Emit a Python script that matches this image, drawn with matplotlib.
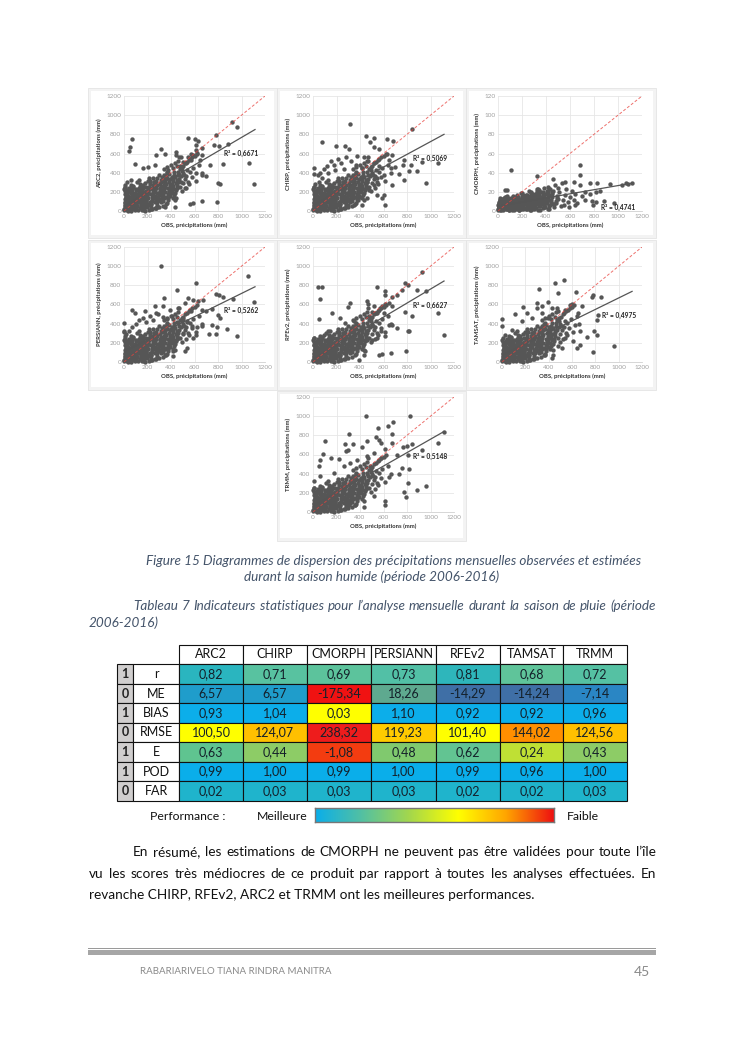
import numpy as np
import matplotlib
matplotlib.use('Agg')
import matplotlib.pyplot as plt
from matplotlib.patches import Rectangle
from matplotlib.colors import LinearSegmentedColormap

plt.rcParams['font.family'] = ['Lato', 'DejaVu Sans']

# points shared by most products (dense cloud around the diagonal), read by eye
core_obs = [4,8,12,6,10,14,9,5,25,30,28,35,22,33,27,38,
            45,52,48,58,44,55,60,50,72,78,68,82,75,88,70,95,85,92,
            105,112,100,118,108,115,125,102,135,142,130,148,138,145,155,128,
            165,172,160,178,168,175,185,162,195,202,190,208,198,205,215,188,225,220,
            235,242,230,248,238,245,255,232,265,272,260,278,268,275,285,258,295,290,
            302,310,305,318,308,315,325,300,335,342,330,348,338,345,355,328,365,360,
            375,382,378,390,385,395,405,380,415,422,410,428,418,440,450,435,465,460,
            3,7,11,15,18,20,2,6,13,17,32,36,40,24,29,34,21,37,
            42,47,53,57,62,65,67,74,80,86,90,94,98,43,56,76,83,96,
            103,107,113,120,123,127,133,137,141,147,151,156,160,167,110,126,144,158,
            173,177,182,187,193,197,203,207,212,218,223,228,233,238,180,200,215,228,
            243,247,252,257,262,267,273,277,283,287,293,298,303,307,250,280,300,265,
            313,317,322,327,333,337,343,347,353,357,363,367,373,377,383,387,340,370,
            393,398,403,408,413,418,423,428,433,438,443,448,453,458,470,485,500,490]
core_est = [6,34,62,92,122,148,178,205,12,42,72,102,130,160,188,60,
            10,38,68,95,125,150,185,212,22,52,82,110,140,170,198,30,60,90,
            18,48,78,105,135,165,195,225,35,62,92,120,150,180,208,240,
            30,58,88,118,148,178,205,235,45,75,105,135,165,195,225,255,60,90,
            120,150,180,210,240,270,300,72,95,125,155,185,215,245,275,305,110,140,
            170,200,230,260,290,320,350,120,100,135,165,195,225,255,285,315,345,150,
            180,210,240,270,300,330,360,390,140,170,200,230,260,290,320,350,380,410,
            20,50,80,110,140,170,230,255,40,195,25,85,115,145,175,205,100,220,
            22,55,82,110,138,165,225,250,38,125,155,185,215,245,275,265,95,110,
            60,92,120,150,180,210,255,280,50,78,105,135,165,195,300,320,240,270,
            15,45,72,102,132,162,192,222,252,285,315,40,75,105,290,310,340,25,
            135,165,195,225,255,285,315,60,90,120,150,180,210,240,345,340,375,35,
            90,125,155,185,215,245,275,305,335,365,395,80,110,140,175,205,375,410,
            155,225,255,285,315,345,375,405,120,185,215,245,275,305,335,365,395,430]
cmorph_core = [1,4,7,2,5,9,3,6,1,4,8,11,3,6,10,13,
               1,4,7,10,2,5,12,14,2,6,9,12,3,7,15,1,4,8,
               2,5,8,11,14,1,4,7,3,6,9,12,15,2,5,10,
               3,6,9,12,15,1,4,7,2,5,8,11,14,17,3,6,10,13,
               2,5,8,11,14,17,4,7,1,3,6,9,12,15,18,21,10,13,
               2,6,9,12,15,18,21,4,1,5,8,11,14,17,20,23,10,7,
               3,6,9,12,15,18,21,24,2,5,8,11,14,17,20,23,4,7,
               2,5,8,11,14,3,6,9,12,1,4,7,10,13,2,5,8,11,
               3,6,9,12,15,2,5,8,11,14,1,4,7,10,13,16,3,6,
               2,4,7,10,13,16,1,3,5,8,11,14,17,2,6,9,12,15,
               1,4,7,10,13,16,19,2,5,8,11,14,17,3,6,9,12,15,
               2,4,7,10,13,16,19,1,3,6,9,12,15,18,5,8,11,14,
               3,7,10,13,16,19,22,1,5,8,11,14,17,20,4,9,12,15,
               4,8,11,14,17,20,23,2,6,9,12,15,18,21,7,10,13,16]

# tail of the cloud along the diagonal and its low edge, not used for CMORPH
tail_obs = [475,490,505,520,535,550,565,580,600,620,480,500,515,530,545,560,575,495,510,525,540,555,590,610,640,660,
            340,370,400,430,460,450,420,470,
            60,90,120,150,180,210,240,270,300,330,360,30]
tail_est = [440,455,470,500,510,530,540,560,570,590,250,290,330,370,300,410,350,210,380,240,430,280,450,310,480,400,
            440,460,480,500,520,470,450,560,
            5,8,6,10,5,12,20,30,45,55,70,4]

arc2_x = [921,958,71,54,43,91,313,546,603,631,617,668,779,768,808,881,845,1063,1109,802,816,788,660,560,589,731,702,660,617,518,
          489,461,446,446,489,546,574,645,660,574,617,262,205,162,276,347,375,404,446,347,276,432,5,10,25,60,480,500,530,560,590,620]
arc2_y = [930,877,756,672,624,489,652,766,756,728,686,662,790,693,680,704,492,503,277,295,284,90,107,73,87,479,368,375,392,236,
          305,375,583,617,565,565,530,530,583,600,635,479,461,444,583,600,427,184,132,45,28,45,270,240,300,320,470,510,500,540,580,610]
chirp_x = [318,80,199,276,455,523,483,523,560,631,677,845,304,375,432,631,674,645,773,930,1066,958,773,731,816,881,768,830,674,617,
           589,546,603,461,418,404,660,702,603,546,518,475,5,5,5,60,90,40,120,150,180,210,240,280,320,370,420,470,520,560,
           260,190,130,80,50,20,15,380,340,300,420,460,350,300,250]
chirp_y = [909,721,676,676,787,760,721,669,652,756,735,853,642,576,565,600,583,530,530,513,503,288,323,381,416,416,479,479,270,62,
           132,166,166,132,62,149,444,461,375,340,270,218,444,390,250,400,440,380,470,520,480,540,500,560,520,480,450,520,500,470,
           440,430,400,340,300,280,160,120,180,130,240,300,60,60,110]
cmorph_x = [106,321,684,684,767,823,935,1066,1116,61,78,460,530,558,633,684,781,795,815,887,963,725,767,815,851,725,474,419,335,279,195,
            480,495,510,525,540,555,570,585,600,615,630,645,660,500,550,590,640,700,1030,1080]
cmorph_y = [43,37,48,38,29,29,28,29,29,22,22,33,29,30,30,27,10,6,9,10,8,12,18,20,21,20,27,25,23,20,19,
            8,14,20,5,11,17,23,9,15,21,12,18,8,24,6,4,6,16,27,28]
persiann_x = [313,611,455,1058,1106,924,341,546,589,631,674,779,810,839,745,802,816,745,788,879,958,782,725,660,617,589,532,518,418,418,
              347,0,0,71,176,97,262,276,333,390,518,461,660,574,702,0,5,20,10,40,70,100,130,160,190,220,250,290,330,370,
              410,450,500,540,580,620,500,460,420,380,350,15,30]
persiann_y = [998,821,748,894,623,657,668,668,650,633,650,713,703,682,553,487,459,383,362,341,268,292,296,372,285,250,146,111,111,59,
              77,407,320,539,529,511,581,511,581,546,616,564,546,529,529,310,270,290,230,320,360,400,440,460,420,480,440,500,470,450,
              480,420,450,420,380,360,300,250,220,180,140,180,220]
rfev2_x = [45,80,57,48,162,233,296,318,546,930,779,810,881,958,759,617,617,674,717,461,466,674,645,779,845,1066,1115,816,808,717,
           674,645,575,617,560,589,668,788,546,503,461,446,432,390,5,5,91,148,276,347,518,589,603,546,489,480,500,530,570,610]
rfev2_y = [779,779,657,449,515,456,570,616,786,939,821,807,751,737,755,737,696,675,703,633,609,581,616,522,477,508,285,320,320,355,
           390,390,320,268,77,83,94,111,250,233,233,111,77,24,250,180,285,320,407,424,581,581,511,511,459,480,520,510,560,600]
tamsat_x = [321,455,535,483,634,773,782,847,299,299,390,347,176,213,114,0,0,682,603,583,825,810,790,810,731,958,776,668,640,611,
            540,512,478,441,427,370,668,626,427,483,540,398,341,256,171,85,28,14,654]
tamsat_y = [765,824,856,720,730,678,703,675,616,563,623,588,570,511,501,449,372,588,609,598,494,442,327,285,264,163,101,181,146,216,
            250,146,163,77,42,77,320,390,563,529,546,459,511,459,424,337,285,198,511]
trmm_x = [455,822,677,637,555,304,105,82,57,48,154,219,276,341,296,279,461,418,540,560,580,674,1115,1066,930,845,802,768,674,617,
          717,810,759,816,731,808,773,788,881,958,645,617,617,518,432,361,304,5,5,63,176,262,318,375,461,518,575,489]
trmm_y = [1002,998,936,894,877,814,737,605,539,483,563,553,710,710,650,633,737,678,783,755,720,814,831,720,650,710,692,678,720,661,
          598,595,459,452,397,303,205,153,233,275,362,111,77,163,52,77,77,320,250,372,407,476,511,546,581,616,563,476]

panel_names = ['ARC2', 'CHIRP', 'CMORPH', 'PERSIANN', 'RFEv2', 'TAMSAT', 'TRMM']
r2_labels = ['0,6671', '0,5069', '0,4741', '0,5262', '0,6627', '0,4975', '0,5148']
trend_start = [50, 60, 5, 110, 30, 70, 60]
trend_end = [850, 800, 29, 785, 845, 737, 840]

# table
columns = ['ARC2', 'CHIRP', 'CMORPH', 'PERSIANN', 'RFEv2', 'TAMSAT', 'TRMM']
rows = ['r', 'ME', 'BIAS', 'RMSE', 'E', 'POD', 'FAR']
flags = ['1', '0', '1', '0', '1', '1', '0']
cells = [['0,82', '0,71', '0,69', '0,73', '0,81', '0,68', '0,72'],
         ['6,57', '6,57', '-175,34', '18,26', '-14,29', '-14,24', '-7,14'],
         ['0,93', '1,04', '0,03', '1,10', '0,92', '0,92', '0,96'],
         ['100,50', '124,07', '238,32', '119,23', '101,40', '144,02', '124,56'],
         ['0,63', '0,44', '-1,08', '0,48', '0,62', '0,24', '0,43'],
         ['0,99', '1,00', '0,99', '1,00', '0,99', '0,96', '1,00'],
         ['0,02', '0,03', '0,03', '0,03', '0,02', '0,02', '0,03']]
cell_colors = [['#2ab5bf', '#58c2a0', '#5cc39c', '#52c0a6', '#2eb6bb', '#5fc49a', '#55c1a3'],
               ['#1f9dcb', '#1f9dcb', '#f01212', '#5ea98f', '#3f6fa6', '#3f6fa6', '#2a86c4'],
               ['#0caeea', '#0caeea', '#ffff00', '#0caeea', '#0caeea', '#0caeea', '#0caeea'],
               ['#ffff00', '#ffc000', '#ee1c1c', '#ffcb00', '#ffff00', '#ff8f00', '#ffc000'],
               ['#5fc490', '#8dcc66', '#f33c10', '#80c96e', '#62c492', '#bfe034', '#8dcc66'],
               ['#0aaeea', '#0aaeea', '#0aaeea', '#0aaeea', '#0aaeea', '#0aaeea', '#0aaeea'],
               ['#1fb4cc', '#1fb4cc', '#1fb4cc', '#1fb4cc', '#1fb4cc', '#1fb4cc', '#1fb4cc']]

W, H = 745, 1053
fig = plt.figure(figsize=(W / 100, H / 100), dpi=100)
bg = fig.add_axes([0, 0, 1, 1])
bg.set_xlim(0, W)
bg.set_ylim(H, 0)
bg.axis('off')
top = fig.add_axes([0, 0, 1, 1], zorder=20)  # R2 labels sit above the scatter axes
top.set_xlim(0, W)
top.set_ylim(H, 0)
top.axis('off')


def px_axes(x0, y0, x1, y1):
    return fig.add_axes([x0 / W, 1 - y1 / H, (x1 - x0) / W, (y1 - y0) / H])


# scatter panels: frame box, plot box
frames = [(88, 88, 277, 238), (277, 88, 466, 238), (466, 88, 656, 238),
          (88, 240, 277, 390), (277, 240, 466, 390), (466, 240, 656, 390),
          (277, 391, 466, 541)]
plots = [(124, 96, 265, 211), (313, 96, 454, 211), (498, 96, 642, 211),
         (124, 247, 265, 362), (313, 247, 454, 362), (502, 247, 642, 362),
         (313, 397, 454, 512)]
r2_pos = [(241, 153), (430, 158), (618, 207), (241, 310), (430, 305), (619, 315), (430, 456)]

series_x = [core_obs + tail_obs + arc2_x, core_obs + tail_obs + chirp_x, core_obs + cmorph_x,
            core_obs + tail_obs + persiann_x, core_obs + tail_obs + rfev2_x,
            core_obs + tail_obs + tamsat_x, core_obs + tail_obs + trmm_x]
series_y = [core_est + tail_est + arc2_y, core_est + tail_est + chirp_y, cmorph_core + cmorph_y,
            core_est + tail_est + persiann_y, core_est + tail_est + rfev2_y,
            core_est + tail_est + tamsat_y, core_est + tail_est + trmm_y]

for i, name in enumerate(panel_names):
    fx0, fy0, fx1, fy1 = frames[i]
    bg.add_patch(Rectangle((fx0, fy0), fx1 - fx0, fy1 - fy0, fc='#f3f3f3', ec='#e4e4e4', lw=0.6))
    bg.add_patch(Rectangle((fx0 + 3, fy0 + 3), fx1 - fx0 - 6, fy1 - fy0 - 6, fc='white', ec='none'))

    ax = px_axes(*plots[i])
    ymax = 120 if name == 'CMORPH' else 1200
    ax.set_xlim(0, 1200)
    ax.set_ylim(0, ymax)
    ax.set_xticks(range(0, 1201, 200))
    ax.set_yticks(np.arange(0, ymax + 1, ymax / 6))
    ax.set_yticklabels([str(int(v)) for v in np.arange(0, ymax + 1, ymax / 6)])
    ax.grid(color='#e6e6e6', lw=0.6)
    ax.set_axisbelow(True)
    ax.tick_params(length=0, labelsize=4.6, labelcolor='#a0a0a0', pad=2)
    for s in ax.spines.values():
        s.set_visible(False)
    ax.spines['bottom'].set_visible(True)
    ax.spines['bottom'].set_color('#d0d0d0')
    ax.spines['bottom'].set_linewidth(0.6)

    ax.scatter(series_x[i], series_y[i], s=10, color='#565656', lw=0, clip_on=False, zorder=3)
    ax.plot([0, 1115], [trend_start[i], trend_end[i]], color='#555555', lw=0.9, zorder=4)
    ax.plot([0, 1200], [0, ymax], color='#e8413c', lw=0.7, ls=(0, (3, 2)), alpha=0.75, zorder=5)

    ax.set_xlabel('OBS, précipitations (mm)', fontsize=4.3, fontweight='bold', color='#333333', labelpad=3)
    ax.set_ylabel(name + ', précipitations (mm)', fontsize=4.3, fontweight='bold', color='#333333', labelpad=3)
    top.text(r2_pos[i][0], r2_pos[i][1], 'R² = ' + r2_labels[i], fontsize=4.8, fontweight='bold',
             color='#222222', ha='center', va='center')

fig.canvas.draw()
renderer = fig.canvas.get_renderer()


def justified(line, x0, x1, y, **kw):
    words = line.split(' ')
    items = [bg.text(x0, y, w, va='baseline', ha='left', **kw) for w in words]
    widths = [t.get_window_extent(renderer).width for t in items]
    gap = (x1 - x0 - sum(widths)) / (len(words) - 1)
    pos = x0
    for t, wd in zip(items, widths):
        t.set_x(pos)
        pos += wd + gap


caption_color = '#44546a'
bg.text(394, 561, 'Figure 15 Diagrammes de dispersion des précipitations mensuelles observées et estimées',
        ha='center', va='center', fontsize=9.7, style='italic', color=caption_color)
bg.text(372, 577, 'durant la saison humide (période 2006-2016)',
        ha='center', va='center', fontsize=9.7, style='italic', color=caption_color)
justified('Tableau 7 Indicateurs statistiques pour l’analyse mensuelle durant la saison de pluie (période',
          133, 656, 610, fontsize=9.7, style='italic', color=caption_color)
bg.text(89, 627, '2006-2016)', ha='left', va='baseline', fontsize=9.7, style='italic', color=caption_color)

# table
col_x = [117, 133, 179, 243, 307, 371, 436, 500, 563, 627]
row_y = [645, 664, 684, 703, 723, 742, 762, 781, 801]
edge = '#111111'
for j, col in enumerate(columns):
    x0, x1 = col_x[j + 2], col_x[j + 3]
    bg.add_patch(Rectangle((x0, row_y[0]), x1 - x0, row_y[1] - row_y[0], fc='white', ec=edge, lw=0.8))
    bg.text((x0 + x1) / 2, (row_y[0] + row_y[1]) / 2, col, ha='center', va='center', fontsize=9, color='#111111')
for r, row in enumerate(rows):
    y0, y1 = row_y[r + 1], row_y[r + 2]
    ym = (y0 + y1) / 2
    bg.add_patch(Rectangle((col_x[0], y0), col_x[1] - col_x[0], y1 - y0, fc='#d0cece', ec=edge, lw=0.8))
    bg.text((col_x[0] + col_x[1]) / 2, ym, flags[r], ha='center', va='center', fontsize=9,
            fontweight='bold', color='#222222')
    bg.add_patch(Rectangle((col_x[1], y0), col_x[2] - col_x[1], y1 - y0, fc='white', ec=edge, lw=0.8))
    bg.text((col_x[1] + col_x[2]) / 2, ym, row, ha='center', va='center', fontsize=9, color='#111111')
    for j in range(len(columns)):
        x0, x1 = col_x[j + 2], col_x[j + 3]
        bg.add_patch(Rectangle((x0, y0), x1 - x0, y1 - y0, fc=cell_colors[r][j], ec=edge, lw=0.8))
        bg.text((x0 + x1) / 2, ym, cells[r][j], ha='center', va='center', fontsize=9, color='#14202a')

# colour key
perf_cmap = LinearSegmentedColormap.from_list('perf', ['#0aaeea', '#55c1a0', '#a6d84a', '#ffff00', '#ffa500', '#ee1111'])
key = px_axes(315, 808, 554, 822)
key.imshow(np.linspace(0, 1, 256)[None, :], aspect='auto', cmap=perf_cmap)
key.set_xticks([])
key.set_yticks([])
for s in key.spines.values():
    s.set_color('#777777')
    s.set_linewidth(1.0)
bg.text(150, 816, 'Performance :', ha='left', va='center', fontsize=8.8, color='#111111')
bg.text(257, 816, 'Meilleure', ha='left', va='center', fontsize=8.8, color='#111111')
bg.text(567, 816, 'Faible', ha='left', va='center', fontsize=8.8, color='#111111')

# body text
justified('En résumé, les estimations de CMORPH ne peuvent pas être validées pour toute l’île',
          133, 656, 856, fontsize=9.85, color='#111111')
justified('vu les scores très médiocres de ce produit par rapport à toutes les analyses effectuées. En',
          89, 656, 878, fontsize=9.85, color='#111111')
bg.text(89, 899, 'revanche CHIRP, RFEv2, ARC2 et TRMM ont les meilleures performances.',
        ha='left', va='baseline', fontsize=9.85, color='#111111')

# footer
bg.add_patch(Rectangle((88, 948), 568, 1, fc='#9a9a9a', ec='none'))
bg.add_patch(Rectangle((88, 950), 568, 5, fc='#a6a6a6', ec='none'))
bg.text(140, 972, 'RABARIARIVELO TIANA RINDRA MANITRA', ha='left', va='center', fontsize=7, color='#8a8a8a')
bg.text(650, 972, '45', ha='right', va='center', fontsize=10, color='#8a8a8a')

fig.savefig('out.png', dpi=100)
